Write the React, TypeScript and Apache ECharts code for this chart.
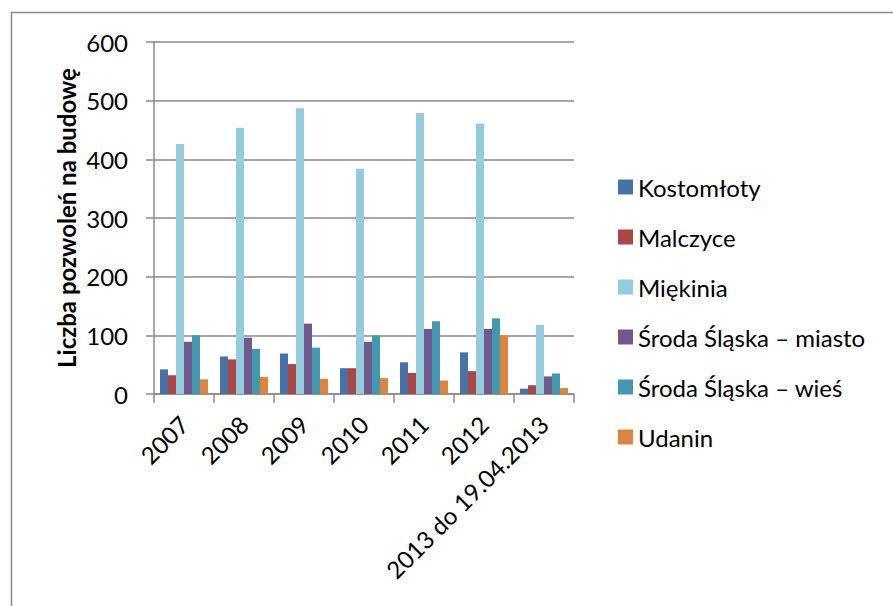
import React, { useEffect, useRef } from "react";
import * as echarts from "echarts";

const categories = ["2007", "2008", "2009", "2010", "2011", "2012", "2013 do 19.04.2013"];
const seriesNames = ["Kostomłoty", "Malczyce", "Miękinia", "Środa Śląska – miasto", "Środa Śląska – wieś", "Udanin"];
const kostomloty = [42, 64, 69, 44, 54, 71, 9];
const malczyce = [32, 59, 51, 44, 36, 39, 15];
const miekinia = [426, 454, 487, 384, 479, 461, 118];
const srodaMiasto = [89, 96, 120, 89, 111, 111, 30];
const srodaWies = [100, 77, 79, 100, 124, 129, 35];
const udanin = [25, 29, 26, 27, 23, 100, 10];
const yTicks = [0, 100, 200, 300, 400, 500, 600];
const colors = ["#4672A8", "#AA4643", "#93CDDD", "#71588F", "#4198AF", "#DB843D"];

const FONT = "Lato";

export default function App() {
  const ref = useRef<HTMLDivElement>(null);
  useEffect(() => {
    document.body.style.margin = "0";
    const chart = echarts.init(ref.current!, null, { renderer: "svg" });
    const values = [kostomloty, malczyce, miekinia, srodaMiasto, srodaWies, udanin];
    chart.setOption({
      animation: false,
      backgroundColor: "#ffffff",
      color: colors,
      textStyle: { fontFamily: FONT },
      graphic: [
        {
          type: "rect",
          shape: { x: 11.5, y: 12.5, width: 1000, height: 1000 },
          style: { fill: "none", stroke: "#8a8a8a", lineWidth: 1.5 },
          silent: true,
        },
      ],
      grid: { left: 154, right: 319, top: 42, bottom: 212, containLabel: false },
      legend: {
        orient: "vertical",
        left: 613,
        top: 170,
        itemWidth: 15,
        itemHeight: 15,
        itemGap: 26,
        icon: "rect",
        data: seriesNames,
        textStyle: { fontFamily: FONT, fontSize: 24, color: "#000", lineHeight: 24 },
      },
      xAxis: {
        type: "category",
        data: categories,
        axisLine: { lineStyle: { color: "#8a8a8a", width: 1.5 } },
        axisTick: { show: true, length: 9, lineStyle: { color: "#8a8a8a", width: 1.5 } },
        axisLabel: { rotate: 45, fontSize: 24, color: "#000", fontFamily: FONT, margin: 26, interval: 0 },
      },
      yAxis: {
        type: "value",
        min: 0,
        max: 600,
        interval: 100,
        name: "Liczba pozwoleń na budowę",
        nameLocation: "middle",
        nameGap: 76,
        nameTextStyle: { fontFamily: FONT, fontSize: 24, fontWeight: "bold", color: "#000" },
        axisLine: { show: true, lineStyle: { color: "#8a8a8a", width: 1.5 } },
        axisTick: { show: true, length: 8, lineStyle: { color: "#8a8a8a", width: 1.5 } },
        axisLabel: {
          fontSize: 24,
          color: "#000",
          fontFamily: FONT,
          margin: 26,
          formatter: (v: number) => (yTicks.includes(v) ? String(v) : ""),
        },
        splitLine: { show: true, lineStyle: { color: "#8a8a8a", width: 1.5 } },
      },
      series: seriesNames.map((name, i) => ({
        name,
        type: "bar",
        data: values[i],
        barWidth: 8,
        barGap: "0%",
        itemStyle: { color: colors[i] },
      })),
    });
    return () => chart.dispose();
  }, []);
  return <div ref={ref} style={{ width: 893, height: 606 }} />;
}
